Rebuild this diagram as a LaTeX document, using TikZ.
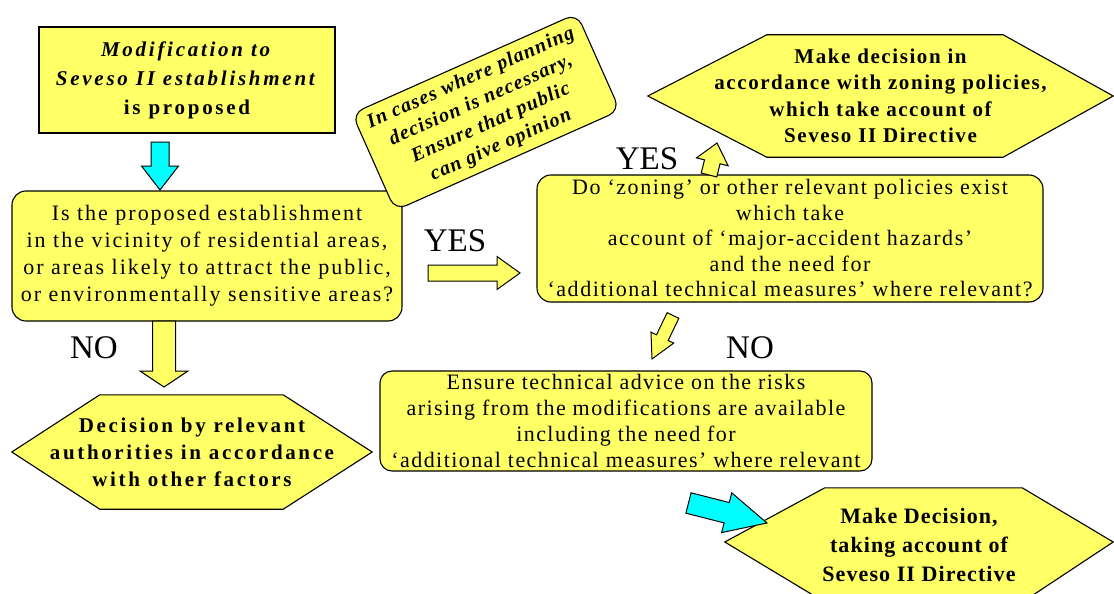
\documentclass[tikz,border=0pt]{standalone}
\usepackage{fontspec}
\setmainfont{Liberation Serif}
\usetikzlibrary{calc,backgrounds}
\definecolor{boxyellow}{RGB}{255,255,102}
\definecolor{arrcyan}{RGB}{0,255,255}
\newcommand{\tfont}[4]{\fontsize{#1}{#2}\selectfont\addfontfeatures{LetterSpace=#3}#4}
\tikzset{
  ybox/.style={draw=black, fill=boxyellow, line width=1.1pt, align=center, inner sep=0pt},
  rbox/.style={ybox, rounded corners=14pt},
  hexfill/.style={draw=black, fill=boxyellow, line width=1.1pt, line join=miter},
  hexnode/.style={align=center, inner sep=0pt},
  blockarr/.style={draw=black, line width=1pt, line join=miter},
  lbl/.style={font=\fontsize{33}{36}\selectfont, inner sep=0pt},
}
% #1 fill, #2 tail coordinate, #3 tip coordinate, #4 shaft half width, #5 head half width, #6 head length
\newcommand{\blockarrow}[6]{%
  \path let \p1=(#2), \p2=(#3), \n1={atan2(\y2-\y1,\x2-\x1)}, \n2={veclen(\x2-\x1,\y2-\y1)} in
    \pgfextra{\xdef\baang{\n1}\xdef\balen{\n2}};
  \begin{scope}[shift={(#2)}, rotate=\baang]
    \draw[blockarr, fill=#1] (0,-#4) -- ({\balen-#6},-#4) -- ({\balen-#6},-#5) -- (\balen,0)
      -- ({\balen-#6},#5) -- ({\balen-#6},#4) -- (0,#4) -- cycle;
  \end{scope}}
\begin{document}
\begin{tikzpicture}[x=1pt,y=1pt]
\useasboundingbox (0,0) rectangle (1114,-594);
\clip (0,0) rectangle (1114,-594);

% boxes
\node[ybox, minimum width=296, minimum height=106, font=\bfseries\tfont{21}{29}{13}{}] (start) at (187,-80)
  {\textit{Modification to}\\\textit{Seveso II establishment}\\is proposed};

\node[rbox, minimum width=390, minimum height=130, font=\tfont{22}{27}{9}{}] (q1) at (207,-256)
  {Is the proposed establishment\\in the vicinity of residential areas,\\or areas likely to attract the public,\\or environmentally sensitive areas?};

\node[ybox, rounded corners=12pt, minimum width=246, minimum height=106, rotate=24,
  font=\bfseries\itshape\tfont{20}{24.5}{6}{}] (pub) at (486,-112)
  {In cases where planning\\decision is necessary,\\Ensure that public\\can give opinion};

\node[rbox, minimum width=506, minimum height=127, font=\tfont{22}{25.5}{7}{}] (q2) at (790,-238.5)
  {Do ‘zoning’ or other relevant policies exist\\which take\\account of ‘major-accident hazards’\\and the need for\\‘additional technical measures’ where relevant?};

\node[rbox, rounded corners=12pt, minimum width=492, minimum height=100, font=\tfont{22}{26}{6.5}{}] (ens) at (626,-421)
  {Ensure technical advice on the risks\\arising from the modifications are available\\including the need for\\‘additional technical measures’ where relevant};

% hexagon decisions
\node[hexnode, minimum width=465, minimum height=122, font=\bfseries\tfont{21}{26.5}{7.5}{}] (h1) at (880.5,-96)
  {Make decision in\\accordance with zoning policies,\\which take account of\\Seveso II Directive};
\node[hexnode, minimum width=360, minimum height=114, font=\bfseries\tfont{21}{27}{12.5}{}] (h3) at (192,-452)
  {Decision by relevant\\authorities in accordance\\with other factors};
\node[hexnode, minimum width=388, minimum height=114, font=\bfseries\tfont{22}{29}{5}{}] (h2) at (919,-545)
  {Make Decision,\\taking account of\\Seveso II Directive};

\begin{scope}[on background layer]
  \draw[hexfill] (h1.west) -- ($(h1.north west)+(119,0)$) -- ($(h1.north east)+(-110,0)$) -- (h1.east)
    -- ($(h1.south east)+(-110,0)$) -- ($(h1.south west)+(119,0)$) -- cycle;
  \draw[hexfill] (h3.west) -- ($(h3.north west)+(88,0)$) -- ($(h3.north east)+(-89,0)$) -- (h3.east)
    -- ($(h3.south east)+(-89,0)$) -- ($(h3.south west)+(88,0)$) -- cycle;
  \draw[hexfill] ($(h2.west)+(0,3)$) -- ($(h2.north west)+(100,0)$) -- ($(h2.north east)+(-91,0)$) -- ($(h2.east)+(0,3)$)
    -- ($(h2.south east)+(-91,0)$) -- ($(h2.south west)+(100,0)$) -- cycle;
\end{scope}

% labels
\node[lbl] (yes1) at (455,-241) {YES};
\node[lbl] (yes2) at (647,-159) {YES};
\node[lbl] (no1) at (94,-348) {NO};
\node[lbl] (no2) at (750,-348) {NO};

% arrow end points
\coordinate (a1t) at (160,-142);  \coordinate (a1h) at (160,-190);
\coordinate (a2t) at (164,-321);  \coordinate (a2h) at (164,-387);
\coordinate (a3t) at (428,-273);  \coordinate (a3h) at (520,-273);
\coordinate (a4t) at (709,-175);  \coordinate (a4h) at (717,-143);
\coordinate (a5t) at (673,-315.5);\coordinate (a5h) at (652,-359);
\coordinate (a6t) at (688.5,-503);\coordinate (a6h) at (767,-523);

\blockarrow{arrcyan}{a1t}{a1h}{9}{18.5}{24}
\blockarrow{boxyellow}{a2t}{a2h}{11.5}{24}{16}
\blockarrow{boxyellow}{a3t}{a3h}{8}{16.5}{23}
\blockarrow{boxyellow}{a4t}{a4h}{8}{16.3}{19.4}
\blockarrow{boxyellow}{a5t}{a5h}{6.5}{12.6}{23.7}
\blockarrow{arrcyan}{a6t}{a6h}{10.5}{20.5}{41.6}
\end{tikzpicture}
\end{document}
